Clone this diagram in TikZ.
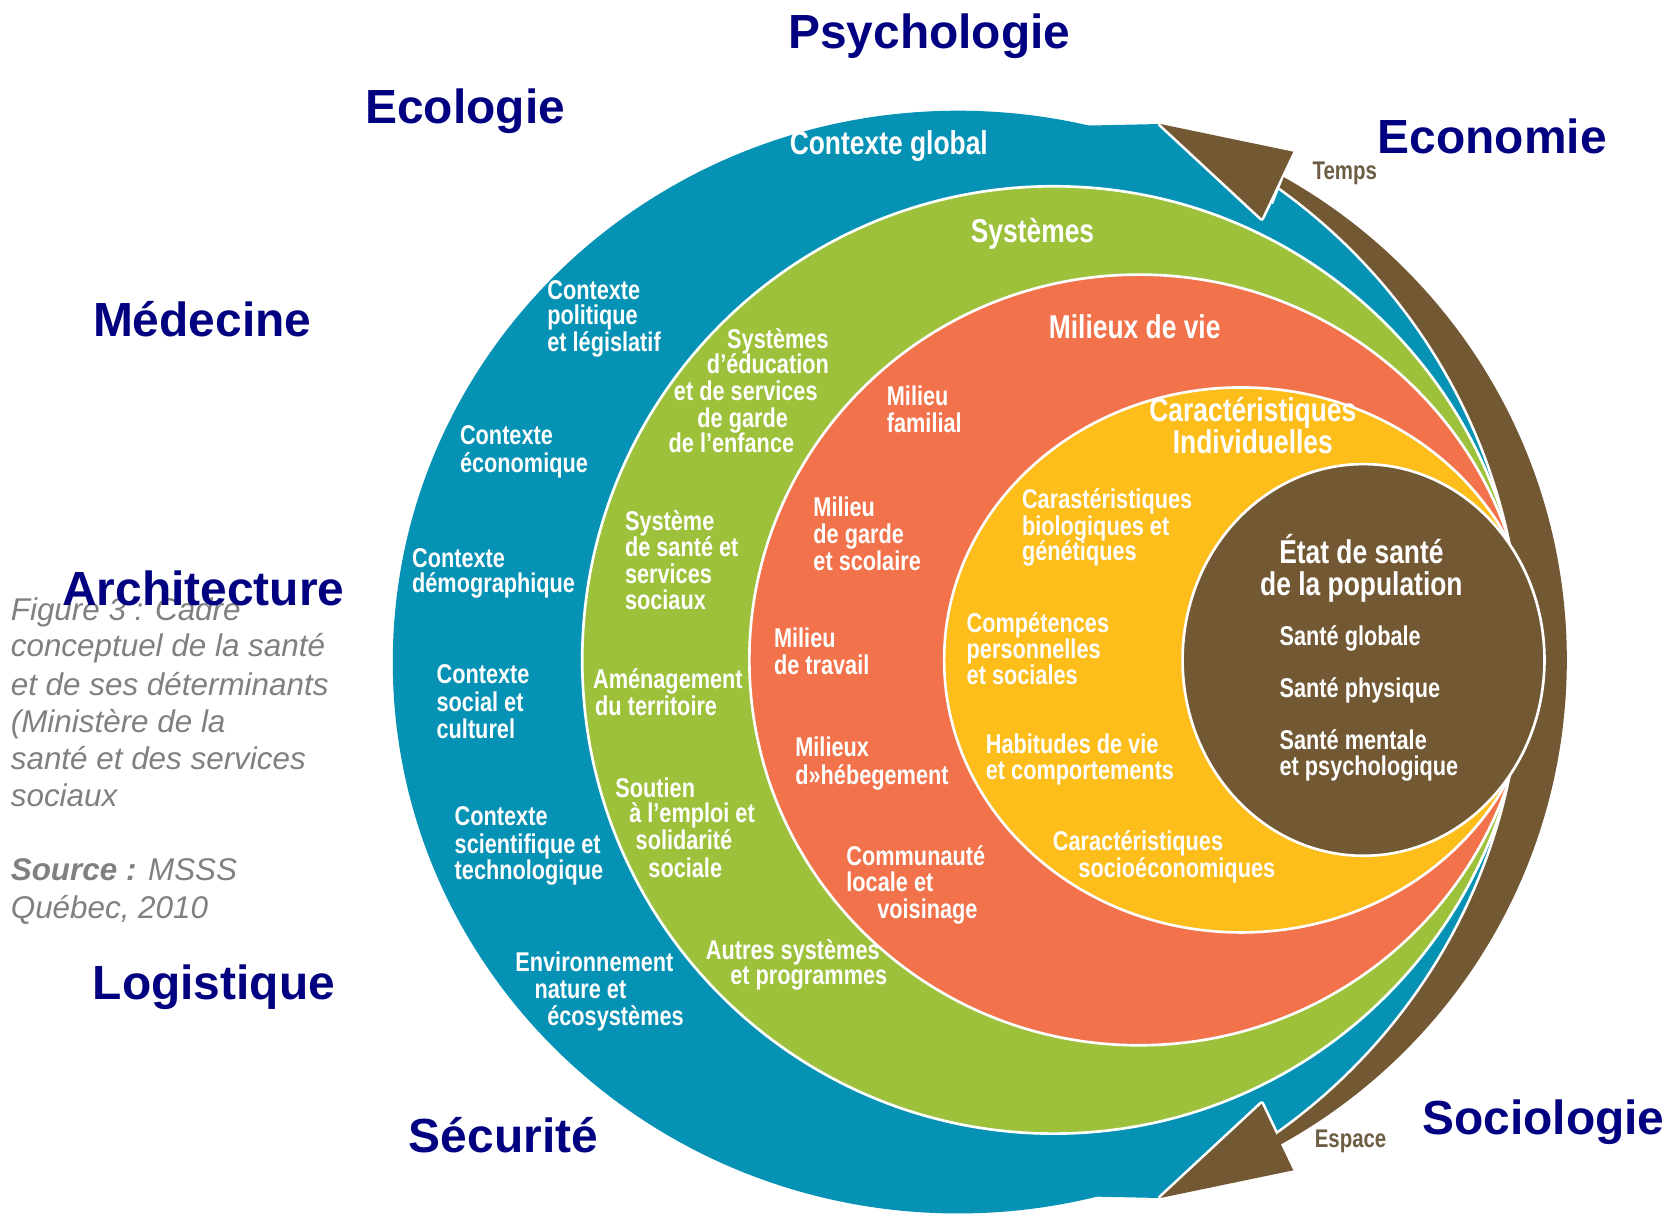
\documentclass[tikz,border=0pt]{standalone}
\usepackage{fontspec}
\setmainfont{Liberation Sans}
\newfontfamily\cnd[FakeStretch=0.8]{Liberation Sans Bold}
\definecolor{cblue}{RGB}{5,146,180}
\definecolor{cgreen}{RGB}{157,193,59}
\definecolor{corange}{RGB}{241,114,75}
\definecolor{cyellow}{RGB}{253,189,26}
\definecolor{cbrown}{RGB}{115,89,51}
\definecolor{navy}{RGB}{0,0,128}
\definecolor{capgray}{RGB}{128,128,128}
\definecolor{bandtext}{RGB}{110,93,69}
\begin{document}
\begin{tikzpicture}[x=1pt,y=-1pt,
  lbl/.style={font=\cnd\fontsize{25.5}{25}\selectfont, text=white, inner sep=0pt, anchor=base west},
  ttl/.style={font=\cnd\fontsize{31}{27}\selectfont, text=white, inner sep=0pt, anchor=base},
  disc/.style={font=\bfseries\fontsize{45}{50}\selectfont, text=navy, inner sep=0pt, anchor=base},
  captxt/.style={font=\itshape\fontsize{29.5}{35}\selectfont, text=capgray, inner sep=0pt, anchor=base west},
  bandlbl/.style={font=\cnd\fontsize{24}{24}\selectfont, text=bandtext, inner sep=0pt, anchor=base west},
  ring/.style={draw=white, line width=2.5pt}]

\useasboundingbox (0,0) rectangle (1568,1143);

% ---------- blue ring (contexte global)
\fill[cblue] (900,622) ellipse [x radius=531pt, y radius=518pt];
\fill[cblue] (1020,118) -- (1090,116.5) -- (1185.3,205) -- (1150,260) -- (1020,260) -- cycle;
\fill[cblue] (1020,1124) -- (1090,1125.5) -- (1185.3,1037) -- (1150,982) -- (1020,982) -- cycle;
\begin{scope}
  \clip (1299.3,-71.5) -- (1700,-71.5) -- (1700,1307.6) -- (1300.3,1307.6) -- (1120.3,893.6) -- (1125.3,372.5) -- cycle;
  \fill[cblue] (884.9,620) circle [radius=545.5pt];
\end{scope}

% ---------- nested rings
\filldraw[fill=cgreen, ring] (989.9,620) ellipse [x radius=442.9pt, y radius=445pt];
\filldraw[fill=corange, ring] (1070,620) ellipse [x radius=366pt, y radius=362pt];
\filldraw[fill=cyellow, ring] (1166,620) ellipse [x radius=279pt, y radius=256pt];

% ---------- time / space band with arrowheads
\coordinate (ta) at (1090,116.5);
\coordinate (tb) at (1215,142.5);
\coordinate (tc) at (1185.3,205);
\coordinate (ba) at (1090,1125.5);
\coordinate (bb) at (1215,1099.5);
\coordinate (bc) at (1185.3,1037);
\begin{scope}
  \clip (1299.3,-71.5) -- (1700,-71.5) -- (1700,1307.6) -- (1300.3,1307.6) -- (1120.3,893.6) -- (1125.3,372.5) -- cycle;
  \draw[white, line width=5pt] (952.4,620) circle [radius=519.6pt] (884.9,620) circle [radius=545.5pt];
\end{scope}
\draw[white, line width=5pt, line join=round] (ta) -- (tb) -- (tc) -- cycle;
\draw[white, line width=5pt, line join=round] (ba) -- (bb) -- (bc) -- cycle;
\begin{scope}
  \clip (1299.3,-71.5) -- (1700,-71.5) -- (1700,1307.6) -- (1300.3,1307.6) -- (1120.3,893.6) -- (1125.3,372.5) -- cycle;
  \fill[cbrown, even odd rule] (952.4,620) circle [radius=519.6pt] (884.9,620) circle [radius=545.5pt];
\end{scope}
\fill[cbrown] (ta) -- (tb) -- (tc) -- cycle;
\fill[cbrown] (ba) -- (bb) -- (bc) -- cycle;

% ---------- central circle
\filldraw[fill=cbrown, ring] (1281,620) ellipse [x radius=170pt, y radius=184pt];

% ---------- caption
\node[captxt] (c1) at (10,583) {Figure 3 : Cadre};
\node[captxt] (c2) at (10,617) {conceptuel de la santé};
\node[captxt] (c3) at (10,653) {et de ses déterminants};
\node[captxt] (c4) at (10,688) {(Ministère de la};
\node[captxt] (c5) at (10,723) {santé et des services};
\node[captxt] (c6) at (10,758) {sociaux};
\node[captxt] (c7) at (10,827) {{\bfseries Source :} MSSS};
\node[captxt] (c8) at (10,863) {Québec, 2010};

% ---------- disciplines
\node[disc] (psy) at (873,46) {Psychologie};
\node[disc] (eco) at (437,116) {Ecologie};
\node[disc] (econ) at (1402,144) {Economie};
\node[disc] (med) at (190,316) {Médecine};
\node[disc] (arch) at (191,569) {Architecture};
\node[disc] (log) at (201,939) {Logistique};
\node[disc] (sec) at (473,1083) {Sécurité};
\node[disc] (soc) at (1450,1066) {Sociologie};

% ---------- blue ring texts
\node[ttl] (b0) at (835,145) {Contexte global};
\node[lbl] (b1) at (514,281) {Contexte};
\node[lbl] (b2) at (514,305) {politique};
\node[lbl] (b3) at (514,330) {et législatif};
\node[lbl] (b4) at (432,418) {Contexte};
\node[lbl] (b5) at (432,444) {économique};
\node[lbl] (b6) at (387,533) {Contexte};
\node[lbl] (b7) at (387,557) {démographique};
\node[lbl] (b8) at (410,642) {Contexte};
\node[lbl] (b9) at (410,668) {social et};
\node[lbl] (b10) at (410,694) {culturel};
\node[lbl] (b11) at (427,776) {Contexte};
\node[lbl] (b12) at (427,802) {scientifique et};
\node[lbl] (b13) at (427,826) {technologique};
\node[lbl] (b14) at (484,913) {Environnement};
\node[lbl] (b15) at (502,938) {nature et};
\node[lbl] (b16) at (514,963) {écosystèmes};

% ---------- green ring texts
\node[ttl] (g0) at (970,228) {Systèmes};
\node[lbl] (g1) at (683,327) {Systèmes};
\node[lbl] (g2) at (664,351) {d’éducation};
\node[lbl] (g3) at (633,376) {et de services};
\node[lbl] (g4) at (655,402) {de garde};
\node[lbl] (g5) at (628,425) {de l’enfance};
\node[lbl] (g6) at (587,498) {Système};
\node[lbl] (g7) at (587,523) {de santé et};
\node[lbl] (g8) at (587,548) {services};
\node[lbl] (g9) at (587,573) {sociaux};
\node[lbl] (g10) at (557,647) {Aménagement};
\node[lbl] (g11) at (559,672) {du territoire};
\node[lbl] (g12) at (578,749) {Soutien};
\node[lbl] (g13) at (591,773) {à l’emploi et};
\node[lbl] (g14) at (597,798) {solidarité};
\node[lbl] (g15) at (609,824) {sociale};
\node[lbl] (g16) at (663,901) {Autres systèmes};
\node[lbl] (g17) at (686,925) {et programmes};

% ---------- orange ring texts
\node[ttl] (o0) at (1066,318) {Milieux de vie};
\node[lbl] (o1) at (833,381) {Milieu};
\node[lbl] (o2) at (833,406) {familial};
\node[lbl] (o3) at (764,485) {Milieu};
\node[lbl] (o4) at (764,511) {de garde};
\node[lbl] (o5) at (764,536) {et scolaire};
\node[lbl] (o6) at (727,608) {Milieu};
\node[lbl] (o7) at (727,634) {de travail};
\node[lbl] (o8) at (747,711) {Milieux};
\node[lbl] (o9) at (747,737) {d»hébegement};
\node[lbl] (o10) at (795,813) {Communauté};
\node[lbl] (o11) at (795,838) {locale et};
\node[lbl] (o12) at (824,863) {voisinage};

% ---------- yellow ring texts
\node[ttl] (y0) at (1177,396) {Caractéristiques};
\node[ttl] (y00) at (1177,426) {Individuelles};
\node[lbl] (y1) at (960,478) {Carastéristiques};
\node[lbl] (y2) at (960,503) {biologiques et};
\node[lbl] (y3) at (960,527) {génétiques};
\node[lbl] (y4) at (908,594) {Compétences};
\node[lbl] (y5) at (908,619) {personnelles};
\node[lbl] (y6) at (908,643) {et sociales};
\node[lbl] (y7) at (926,708) {Habitudes de vie};
\node[lbl] (y8) at (926,732) {et comportements};
\node[lbl] (y9) at (989,799) {Caractéristiques};
\node[lbl] (y10) at (1013,824) {socioéconomiques};

% ---------- centre texts
\node[ttl] (e0) at (1279,529) {État de santé};
\node[ttl] (e00) at (1279,559) {de la population};
\node[lbl] (e1) at (1202,606) {Santé globale};
\node[lbl] (e2) at (1202,655) {Santé physique};
\node[lbl] (e3) at (1202,704) {Santé mentale};
\node[lbl] (e4) at (1202,729) {et psychologique};

% ---------- band labels
\node[bandlbl] (temps) at (1233,169) {Temps};
\node[bandlbl] (espace) at (1235,1078) {Espace};
\end{tikzpicture}
\end{document}
